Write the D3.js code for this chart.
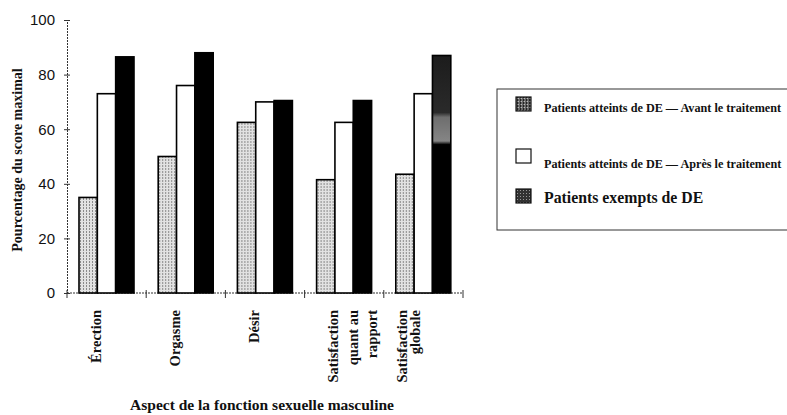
<!DOCTYPE html>
<html lang="fr">
<head>
<meta charset="UTF-8">
<title>Aspect de la fonction sexuelle masculine</title>
<script src="https://d3js.org/d3.v7.min.js"></script>
<style>
  body { margin: 0; background: #fff; }
  svg { display: block; }
  .serif { font-family: "Liberation Serif", "DejaVu Serif", serif; font-weight: bold; fill: #111; }
  .tick-num { font-family: "Liberation Sans", Arial, sans-serif; font-size: 15px; fill: #111; }
</style>
</head>
<body>
<svg id="chart" width="787" height="415"></svg>
<script>
// données
const categories = ["Érection", "Orgasme", "Désir", "Satisfaction quant au rapport", "Satisfaction globale"];
const categoryLines = [["Érection"], ["Orgasme"], ["Désir"], ["Satisfaction", "quant au", "rapport"], ["Satisfaction", "globale"]];
const series = ["Patients atteints de DE — Avant le traitement", "Patients atteints de DE — Après le traitement", "Patients exempts de DE"];
const avant  = [35, 50, 62.5, 41.5, 43.5];
const apres  = [73, 76, 70, 62.5, 73];
const exempt = [86.5, 88, 70.5, 70.5, 87];
const yTicks = [0, 20, 40, 60, 80, 100];

const values = [avant, apres, exempt];
const rows = categories.map((c, i) => ({ cat: c, vals: series.map((s, j) => ({ s, j, v: values[j][i] })) }));

const svg = d3.select("#chart");
const defs = svg.append("defs");

// trame pointillée claire (avant traitement)
const p1 = defs.append("pattern").attr("id", "stip").attr("patternUnits", "userSpaceOnUse")
  .attr("width", 3).attr("height", 3);
p1.append("rect").attr("width", 3).attr("height", 3).attr("fill", "#e2e2e2");
p1.append("rect").attr("x", 1).attr("width", 1).attr("height", 2).attr("fill", "#8a8a8a");

// trames foncées pour la légende
const p2 = defs.append("pattern").attr("id", "stipDark").attr("patternUnits", "userSpaceOnUse")
  .attr("width", 3).attr("height", 3);
p2.append("rect").attr("width", 3).attr("height", 3).attr("fill", "#666");
p2.append("rect").attr("x", 1).attr("width", 1).attr("height", 2).attr("fill", "#222");
p2.append("rect").attr("x", 2).attr("y", 2).attr("width", 1).attr("height", 1).attr("fill", "#bbb");

const p3 = defs.append("pattern").attr("id", "stipBlack").attr("patternUnits", "userSpaceOnUse")
  .attr("width", 3).attr("height", 3);
p3.append("rect").attr("width", 3).attr("height", 3).attr("fill", "#333");
p3.append("rect").attr("x", 1).attr("y", 1).attr("width", 1).attr("height", 1).attr("fill", "#999");

// dégradé de la dernière barre noire (tache grise de la numérisation)
const gr = defs.append("linearGradient").attr("id", "globalGrad")
  .attr("x1", "0").attr("y1", "0").attr("x2", "0").attr("y2", "1");
[["0%", "#1c1c1c"], ["24%", "#2a2a2a"], ["26%", "#6e6e6e"], ["36%", "#858585"], ["37.5%", "#000"], ["100%", "#000"]]
  .forEach(([o, c]) => gr.append("stop").attr("offset", o).attr("stop-color", c));

const x0 = d3.scaleBand().domain(categories).range([67, 463]);
const x1 = d3.scaleBand().domain(series).range([12, 67]);
const y = d3.scaleLinear().domain([0, 100]).range([293, 20]);

const fills = ["url(#stip)", "#fff", "#000"];

// axe Y
const yAxis = svg.append("g").attr("transform", "translate(67,0)")
  .call(d3.axisLeft(y).tickValues(yTicks).tickSize(3).tickPadding(9));
yAxis.select(".domain").attr("stroke", "#333").attr("stroke-dasharray", "2,1");
yAxis.selectAll(".tick line").attr("x2", 3).attr("x1", -3).attr("stroke", "#333");
yAxis.selectAll(".tick text").attr("class", "tick-num").attr("font-size", null).attr("font-family", null);

// axe X
const xAxis = svg.append("g").attr("transform", `translate(0,${y(0)})`);
xAxis.append("line").attr("x1", x0.range()[0]).attr("x2", x0.range()[1])
  .attr("stroke", "#333").attr("stroke-dasharray", "2,1");
xAxis.selectAll(".xt").data(categories.map(c => x0(c) + x0.bandwidth()).concat([x0.range()[0]]))
  .enter().append("line").attr("x1", d => d).attr("x2", d => d)
  .attr("y1", -3).attr("y2", 5).attr("stroke", "#333");

// barres
const groups = svg.selectAll(".grp").data(rows).enter().append("g")
  .attr("transform", d => `translate(${x0(d.cat)},0)`);
groups.selectAll("rect").data(d => d.vals.map(v => Object.assign({ cat: d.cat }, v)))
  .enter().append("rect")
  .attr("x", d => x1(d.s))
  .attr("y", d => y(d.v))
  .attr("width", x1.bandwidth())
  .attr("height", d => y(0) - y(d.v))
  .attr("fill", d => (d.j === 2 && d.cat === categories[4]) ? "url(#globalGrad)" : fills[d.j])
  .attr("stroke", "#000")
  .attr("stroke-width", 1.6);

// étiquettes des catégories (verticales)
categories.forEach((c, i) => {
  const cx = x0(c) + x0.bandwidth() / 2 - 11;
  const n = categoryLines[i].length;
  categoryLines[i].forEach((line, k) => {
    const lx = cx + k * (n === 3 ? 19.5 : 13) - (n === 2 ? 10 : 0);
    svg.append("text").attr("class", "serif")
      .attr("transform", `translate(${lx + 5},310) rotate(-90)`)
      .attr("text-anchor", "end")
      .attr("font-size", 14.5)
      .text(line);
  });
});

// titres des axes
svg.append("text").attr("class", "serif")
  .attr("transform", "translate(22,160) rotate(-90)")
  .attr("text-anchor", "middle").attr("font-size", 14)
  .text("Pourcentage du score maximal");

svg.append("text").attr("class", "serif")
  .attr("x", 262).attr("y", 410)
  .attr("text-anchor", "middle").attr("font-size", 15.5)
  .text("Aspect de la fonction sexuelle masculine");

// légende
const leg = svg.append("g");
leg.append("rect").attr("x", 497).attr("y", 89).attr("width", 320).attr("height", 141)
  .attr("fill", "none").attr("stroke", "#333").attr("stroke-width", 1);
const legFills = ["url(#stipDark)", "#fff", "url(#stipBlack)"];
const legY = [97, 149, 189];
const legText = [112, 168, 203];
const legSize = [12.2, 12.2, 15.8];
series.forEach((s, i) => {
  leg.append("rect").attr("x", 516).attr("y", legY[i]).attr("width", 15).attr("height", 14)
    .attr("fill", legFills[i]).attr("stroke", "#111").attr("stroke-width", 1.2);
  leg.append("text").attr("class", "serif").attr("x", 544).attr("y", legText[i])
    .attr("font-size", legSize[i]).text(s);
});
</script>
</body>
</html>
